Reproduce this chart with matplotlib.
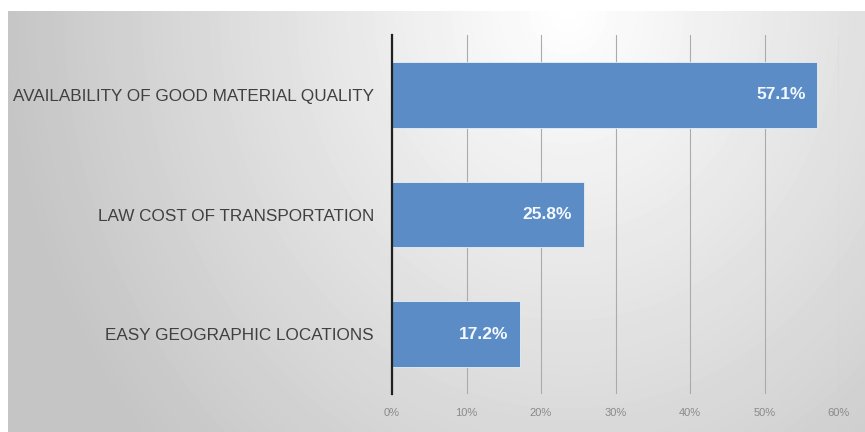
import matplotlib.pyplot as plt
import numpy as np

categories = ['EASY GEOGRAPHIC LOCATIONS', 'LAW COST OF TRANSPORTATION',
              'AVAILABILITY OF GOOD MATERIAL QUALITY']
shares = [0.172, 0.258, 0.571]
ticks = [0, 0.1, 0.2, 0.3, 0.4, 0.5, 0.6]

plt.rcParams['font.family'] = ['Liberation Sans', 'DejaVu Sans']

W, H = 865, 432
fig = plt.figure(figsize=(W / 100, H / 100), dpi=100)

# radial grey background for the chart area
bg = fig.add_axes([8 / W, 0, 1 - 8 / W, 1 - 11 / H], zorder=0)
yy, xx = np.mgrid[0:421, 0:857]
r = np.hypot((xx - 560) / 570.0, yy / 650.0)
shade = 1.0 - 0.23 * np.clip(r, 0, 1.0)
bg.imshow(shade, cmap='gray', vmin=0, vmax=1, aspect='auto',
          extent=[0, 1, 0, 1], interpolation='bilinear')
bg.axis('off')

ax = fig.add_axes([392 / W, 1 - 394 / H, (839 - 392) / W, (394 - 35) / H], zorder=1)
ax.patch.set_alpha(0)

y = np.arange(len(categories))
bars = ax.barh(y, shares, height=0.55, color='#5b8cc6', edgecolor='#e8f0fa',
               linewidth=0.6, zorder=3)

for b, v in zip(bars, shares):
    ax.text(b.get_width() - 0.016, b.get_y() + b.get_height() / 2, f'{v * 100:.1f}%',
            ha='right', va='center', color='#f4f8ff', fontsize=12.5,
            fontweight='bold', zorder=4)

ax.set_xlim(0, 0.6)
ax.set_ylim(-0.5, len(categories) - 0.5)
ax.set_xticks(ticks)
ax.set_xticklabels([f'{int(t * 100)}%' for t in ticks])
ax.set_yticks(y)
ax.set_yticklabels(categories)
ax.grid(axis='x', color='#ababab', linewidth=0.8, zorder=1)
ax.set_axisbelow(True)

for s in ['top', 'right', 'bottom']:
    ax.spines[s].set_visible(False)
ax.spines['left'].set_color('#202020')
ax.spines['left'].set_linewidth(1.6)
ax.spines['left'].set_zorder(5)

ax.tick_params(axis='x', length=0, pad=10, labelsize=8, labelcolor='#8a8a8a')
ax.tick_params(axis='y', length=0, pad=13, labelsize=12.3, labelcolor='#404040')

fig.savefig('out.png', dpi=100)
